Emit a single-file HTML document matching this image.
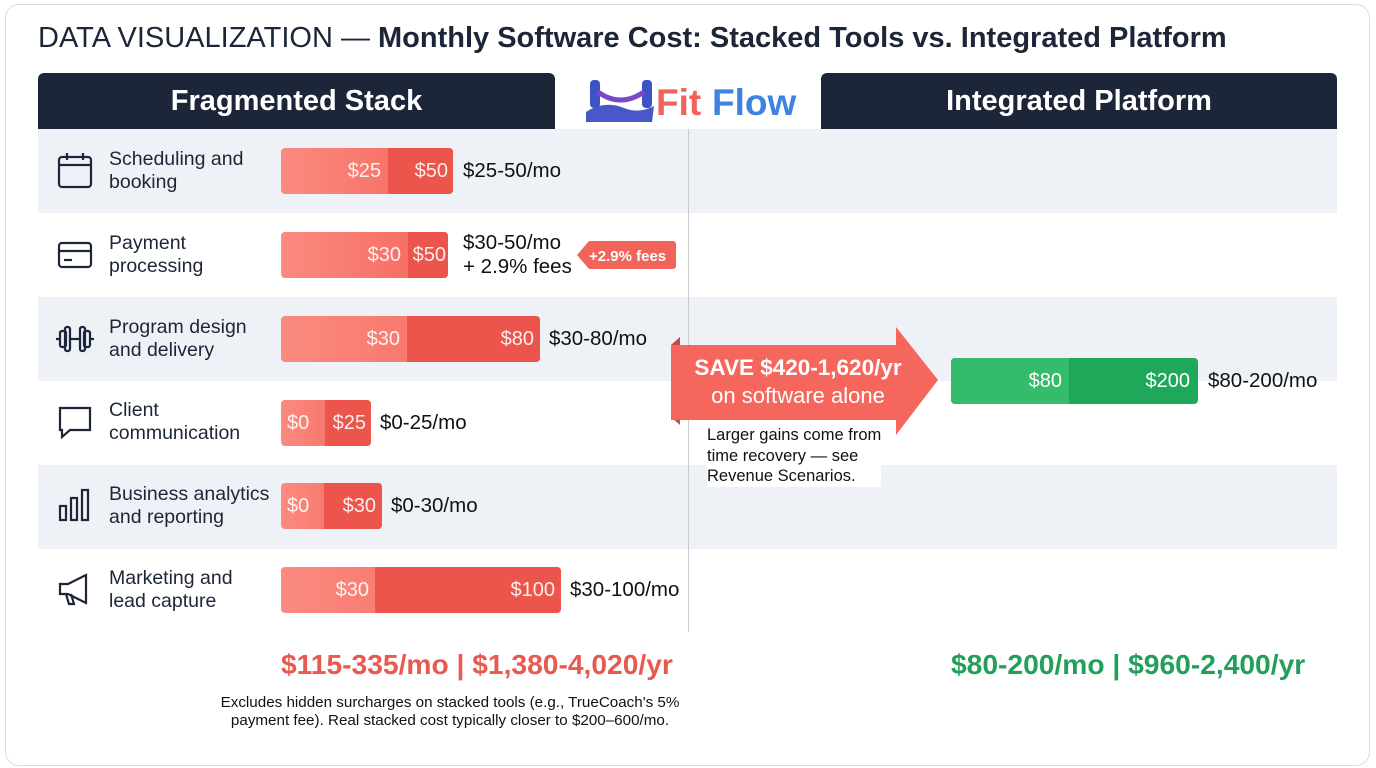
<!DOCTYPE html>
<html><head><meta charset="utf-8"><style>
body{margin:0;width:1376px;height:768px;background:#fff;font-family:"Liberation Sans",sans-serif;position:relative;overflow:hidden}
.card{position:absolute;left:5px;top:4px;width:1363px;height:760px;border:1px solid #d8dce2;border-radius:14px}
.abs{position:absolute}
.title{left:38px;top:22px;font-size:29px;color:#1c2638;white-space:nowrap}
.hdr{background:#1c2638;color:#fff;font-weight:bold;font-size:29px;text-align:center;line-height:57px;top:73px;height:57px;border-radius:6px 6px 0 0}
.row{left:38px;width:1299px;height:84px}
.g{background:#eef1f5}
.lab{left:109px;font-size:19.5px;color:#1c2638;line-height:23px}
.bar{height:46px;border-radius:4px;background:linear-gradient(90deg,#fb8a80,#f5675c);overflow:hidden}
.bar .d{position:absolute;top:0;bottom:0;right:0;background:#ec554b}
.bar span{position:absolute;color:#fff;font-size:20px;line-height:46px;opacity:.9}
.v{font-size:20.5px;color:#111;line-height:24px}
</style></head><body>
<div class="card"></div>
<div class="abs title">DATA VISUALIZATION — <b>Monthly Software Cost: Stacked Tools vs. Integrated Platform</b></div>
<div class="abs hdr" style="left:38px;width:517px">Fragmented Stack</div>
<div class="abs hdr" style="left:821px;width:516px">Integrated Platform</div>
<svg class="abs" style="left:584px;top:76px" width="215" height="50"><path d="M2 36 Q20 24 40 32 Q55 38 70 30 L68 46 L2 46Z" fill="#4a57c8"/><rect x="6" y="4" width="10" height="28" rx="4" fill="#3d52c4"/><rect x="58" y="4" width="10" height="28" rx="4" fill="#3d52c4"/><path d="M14 16 Q36 32 60 16" stroke="#7a49c9" stroke-width="5" fill="none"/><text x="72" y="39" font-family="Liberation Sans" font-weight="bold" font-size="37" fill="#f0625a">Fit</text><text x="128" y="39" font-family="Liberation Sans" font-weight="bold" font-size="37" fill="#3f82e0">Flow</text></svg>
<div class="abs row g" style="top:129px"></div>
<div class="abs row" style="top:213px"></div>
<div class="abs row g" style="top:297px"></div>
<div class="abs row" style="top:381px"></div>
<div class="abs row g" style="top:465px"></div>
<div class="abs row" style="top:548px"></div>
<div class="abs" style="left:688px;top:129px;width:1px;height:503px;background:#c8ccd2"></div>

<div class="abs lab" style="top:148px">Scheduling and<br>booking</div>
<div class="abs lab" style="top:232px">Payment<br>processing</div>
<div class="abs lab" style="top:316px">Program design<br>and delivery</div>
<div class="abs lab" style="top:399px">Client<br>communication</div>
<div class="abs lab" style="top:483px">Business analytics<br>and reporting</div>
<div class="abs lab" style="top:567px">Marketing and<br>lead capture</div>

<svg class="abs" style="left:56px;top:152px" width="40" height="380" fill="none" stroke="#1c2638" stroke-width="2.2">
<rect x="3" y="5" width="32" height="30" rx="3"/><line x1="3" y1="13" x2="35" y2="13"/><line x1="11" y1="1" x2="11" y2="8"/><line x1="27" y1="1" x2="27" y2="8"/>
<rect x="3" y="91" width="32" height="24" rx="3"/><line x1="3" y1="99" x2="35" y2="99"/><line x1="8" y1="108" x2="16" y2="108"/>
<rect x="4" y="179" width="6" height="16" rx="2"/><rect x="28" y="179" width="6" height="16" rx="2"/><rect x="9" y="175" width="5" height="24" rx="2"/><rect x="24" y="175" width="5" height="24" rx="2"/><line x1="14" y1="187" x2="24" y2="187"/><line x1="0" y1="187" x2="4" y2="187"/><line x1="34" y1="187" x2="38" y2="187"/>
<path d="M4 256h30v22H14l-8 7v-7H4z"/>
<rect x="4" y="354" width="6" height="14"/><rect x="15" y="346" width="6" height="22"/><rect x="26" y="338" width="6" height="30"/>
</svg>
<svg class="abs" style="left:56px;top:570px" width="40" height="40" fill="none" stroke="#1c2638" stroke-width="2.2"><path d="M4 14h8l18-9v28l-18-9H4z M10 24l3 10h5l-3-10"/></svg>

<div class="abs bar" style="left:281px;top:148px;width:172px"><div class="d" style="width:65px"></div><span style="right:72px">$25</span><span style="right:5px">$50</span></div>
<div class="abs v" style="left:463px;top:159px">$25-50/mo</div>
<div class="abs bar" style="left:281px;top:232px;width:167px"><div class="d" style="width:40px"></div><span style="right:47px">$30</span><span style="right:2px">$50</span></div>
<div class="abs v" style="left:463px;top:231px">$30-50/mo<br>+ 2.9% fees</div>
<svg class="abs" style="left:577px;top:241px" width="100" height="30"><path d="M12 0H96a3 3 0 0 1 3 3V25a3 3 0 0 1-3 3H12L0 14Z" fill="#f0645a"/><text x="12" y="20" font-family="Liberation Sans" font-weight="bold" font-size="15" fill="#fff">+2.9% fees</text></svg>
<div class="abs bar" style="left:281px;top:316px;width:259px"><div class="d" style="width:133px"></div><span style="right:140px">$30</span><span style="right:6px">$80</span></div>
<div class="abs v" style="left:549px;top:327px">$30-80/mo</div>
<div class="abs bar" style="left:281px;top:400px;width:90px"><div class="d" style="width:46px"></div><span style="left:6px">$0</span><span style="right:5px">$25</span></div>
<div class="abs v" style="left:380px;top:411px">$0-25/mo</div>
<div class="abs bar" style="left:281px;top:483px;width:101px"><div class="d" style="width:58px"></div><span style="left:6px">$0</span><span style="right:6px">$30</span></div>
<div class="abs v" style="left:391px;top:494px">$0-30/mo</div>
<div class="abs bar" style="left:281px;top:567px;width:280px"><div class="d" style="width:186px"></div><span style="right:192px">$30</span><span style="right:6px">$100</span></div>
<div class="abs v" style="left:570px;top:578px">$30-100/mo</div>

<svg class="abs" style="left:668px;top:325px" width="275" height="115"><path d="M3 20 L12 12 L12 100 L3 92Z" fill="#c94a44"/><path d="M3 20H228V2L270 55L228 110V95H3Z" fill="#f5675c"/><text x="130" y="50" text-anchor="middle" font-family="Liberation Sans" font-weight="bold" font-size="22.5" fill="#fff">SAVE $420-1,620/yr</text><text x="130" y="78" text-anchor="middle" font-family="Liberation Sans" font-size="22" fill="#fff">on software alone</text></svg>
<div class="abs" style="left:707px;top:425px;font-size:16.5px;line-height:20.5px;color:#111;background:#fff">Larger gains come from<br>time recovery — see<br>Revenue Scenarios.</div>

<div class="abs" style="left:951px;top:358px;width:247px;height:46px;border-radius:4px;background:#1fa85a;overflow:hidden"><div class="abs" style="left:0;top:0;width:118px;height:46px;background:#35bb6c"></div><span class="abs" style="right:136px;color:#fff;font-size:20px;line-height:46px">$80</span><span class="abs" style="right:8px;color:#fff;font-size:20px;line-height:46px">$200</span></div>
<div class="abs v" style="left:1208px;top:369px">$80-200/mo</div>

<div class="abs" style="left:281px;top:648px;font-size:28.2px;font-weight:bold;color:#e85a50;white-space:nowrap">$115-335/mo | $1,380-4,020/yr</div>
<div class="abs" style="left:951px;top:648px;font-size:28.2px;font-weight:bold;color:#22a05a;white-space:nowrap">$80-200/mo | $960-2,400/yr</div>
<div class="abs" style="left:180px;width:540px;top:694px;font-size:15.2px;line-height:18px;color:#111;text-align:center">Excludes hidden surcharges on stacked tools (e.g., TrueCoach's 5%<br>payment fee). Real stacked cost typically closer to $200–600/mo.</div>
</body></html>
